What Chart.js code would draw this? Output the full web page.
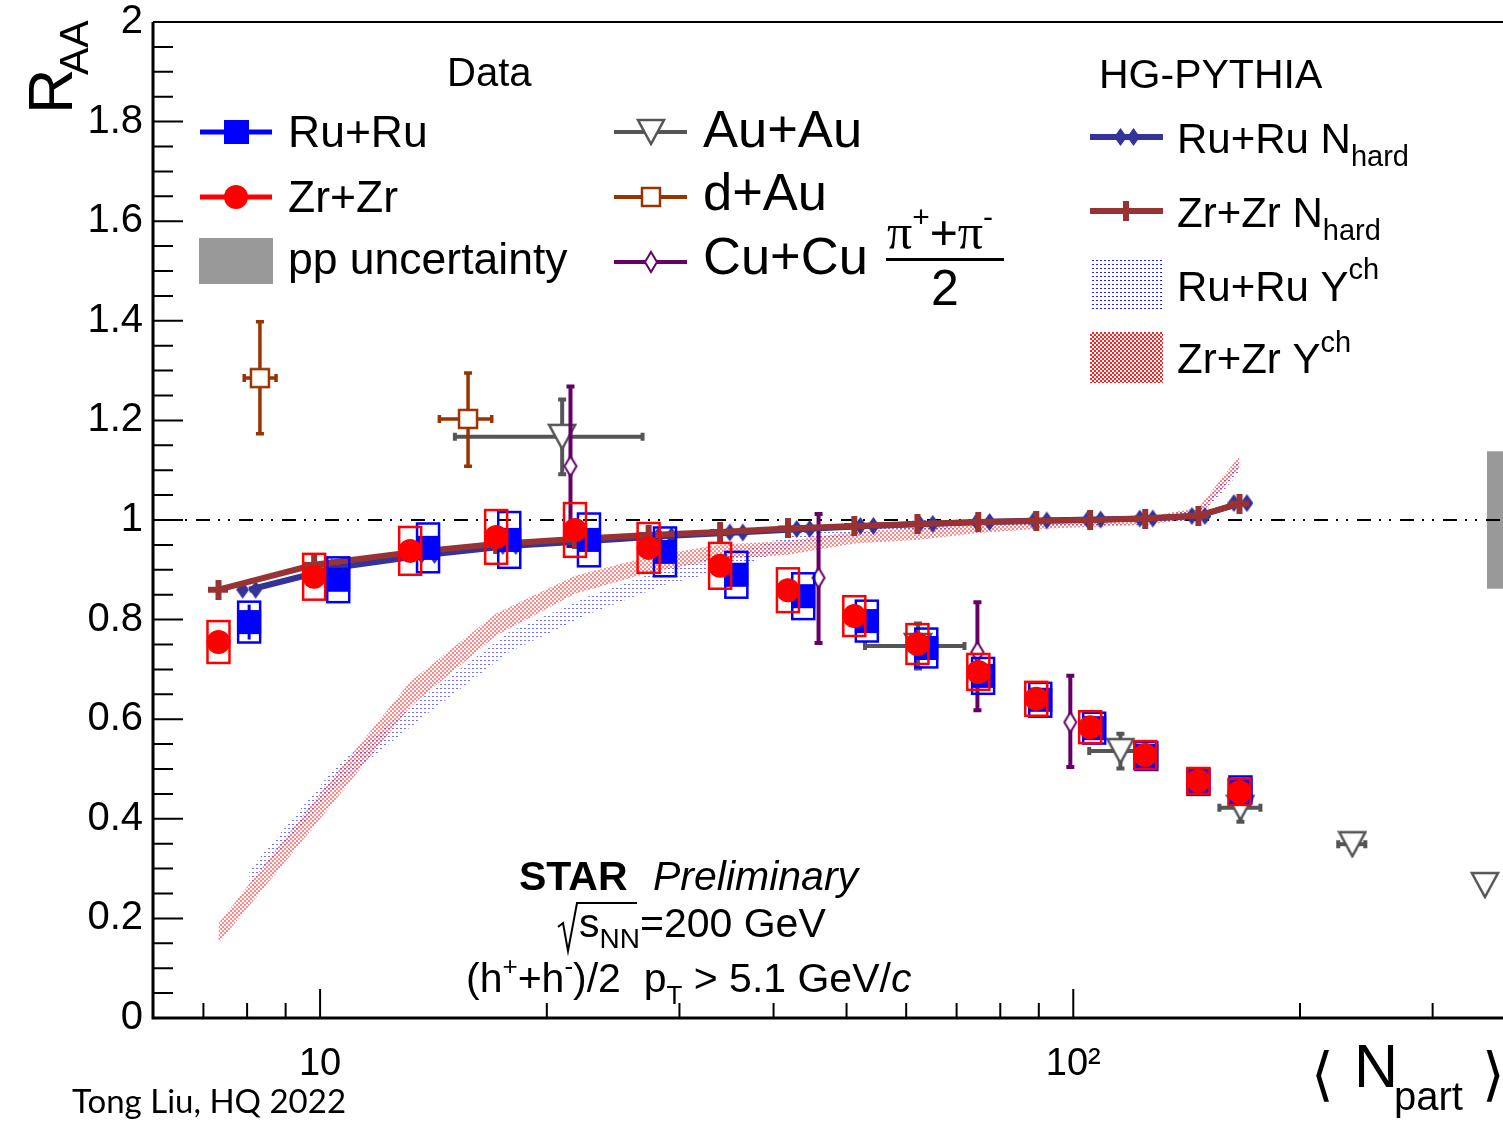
<!DOCTYPE html>
<html>
<head>
<meta charset="utf-8">
<script src="https://cdn.jsdelivr.net/npm/chart.js@4.4.1/dist/chart.umd.min.js"></script>
<style>
  html, body { margin: 0; padding: 0; background: #fff; overflow: hidden; }
</style>
</head>
<body>
<canvas id="chart" width="1503" height="1122"></canvas>
<script>
// ---- data ----
// STAR Ru+Ru and Zr+Zr, (h+ + h-)/2, pT > 5.1 GeV/c
const ruNpart = [8.05, 10.57, 13.91, 17.83, 22.75, 28.7, 35.7, 43.8, 53.2, 63.8, 75.9, 90.4, 106.6, 125, 146.6, 166.7];
const ruRaa   = [0.795, 0.88, 0.944, 0.96, 0.96, 0.936, 0.89, 0.847, 0.797, 0.743, 0.687, 0.639, 0.582, 0.526, 0.474, 0.458];
const ruStat  = [0.035, 0.012, 0.01, 0.01, 0.01, 0.01, 0.01, 0.01, 0.01, 0.01, 0.01, 0.01, 0.01, 0.01, 0.01, 0.01];
const ruSys   = [0.041, 0.045, 0.049, 0.056, 0.053, 0.049, 0.046, 0.046, 0.041, 0.039, 0.036, 0.034, 0.031, 0.028, 0.026, 0.027];

const zrNpart = [7.33, 9.82, 13.17, 17.13, 21.8, 27.3, 33.97, 41.8, 51.2, 62.1, 74.8, 89.3, 105.3, 124.6, 146.6, 166.2];
const zrRaa   = [0.755, 0.886, 0.938, 0.966, 0.98, 0.944, 0.908, 0.859, 0.807, 0.751, 0.695, 0.641, 0.584, 0.528, 0.476, 0.454];
const zrStat  = [0.01, 0.01, 0.01, 0.01, 0.01, 0.01, 0.01, 0.01, 0.01, 0.01, 0.01, 0.01, 0.01, 0.01, 0.01, 0.01];
const zrSys   = [0.042, 0.046, 0.048, 0.054, 0.054, 0.05, 0.046, 0.044, 0.04, 0.04, 0.036, 0.034, 0.032, 0.028, 0.026, 0.026];

// HG-PYTHIA
const ruNhard  = [0.86, 0.905, 0.93, 0.948, 0.958, 0.968, 0.975, 0.982, 0.988, 0.992, 0.996, 0.999, 1.001, 1.003, 1.008, 1.034];
const zrNhard  = [0.86, 0.91, 0.935, 0.952, 0.962, 0.97, 0.976, 0.983, 0.988, 0.992, 0.996, 0.998, 1.0, 1.003, 1.009, 1.033];
const ruYch    = [0.281, 0.49, 0.632, 0.755, 0.829, 0.886, 0.92, 0.965, 0.984, 0.99, 0.994, 0.996, 0.998, 1.0, 1.01, 1.11];
const ruYchErr = [0.015, 0.02, 0.02, 0.02, 0.018, 0.016, 0.015, 0.013, 0.01, 0.01, 0.008, 0.008, 0.008, 0.008, 0.01, 0.012];
const zrYch    = [0.17, 0.41, 0.65, 0.79, 0.87, 0.91, 0.936, 0.944, 0.965, 0.972, 0.984, 0.99, 0.994, 0.998, 1.014, 1.117];
const zrYchErr = [0.02, 0.025, 0.025, 0.022, 0.018, 0.016, 0.015, 0.014, 0.012, 0.012, 0.01, 0.008, 0.008, 0.008, 0.01, 0.012];

// published comparisons
const auNpart   = [20.96, 62.2, 115.5, 166.7, 234.7, 352];
const auRaa     = [1.167, 0.747, 0.536, 0.422, 0.349, 0.267];
const auNpartLo = [15.1, 52.9, 105, 156.3, 224.8, 352];
const auNpartHi = [26.8, 71.7, 126.6, 177.2, 244.2, 352];
const auErr     = [0.075, 0.045, 0.035, 0.028, 0.01, 0];

const dauNpart   = [8.32, 15.72];
const dauRaa     = [1.285, 1.203];
const dauNpartLo = [7.93, 14.4];
const dauNpartHi = [8.74, 16.9];
const dauErrLo   = [0.112, 0.095];
const dauErrHi   = [0.113, 0.092];

const cuNpart = [21.5, 45.9, 74.6, 99.1];
const cuRaa   = [1.108, 0.884, 0.735, 0.594];
const cuErrLo = [0.16, 0.131, 0.117, 0.09];
const cuErrHi = [0.16, 0.128, 0.1, 0.093];

const ppUnc = 0.138;

// axes
const xMin = 6, xMax = 372;
const xMajorTicks = [10, 100];
const xTickLabels = ['10', '10\u00B2'];
const xMinorTicks = [7, 8, 9, 20, 30, 40, 50, 60, 70, 80, 90, 200, 300];
const yMajorTicks = [0, 0.2, 0.4, 0.6, 0.8, 1, 1.2, 1.4, 1.6, 1.8, 2];
const yMinorTicks = [0.05, 0.1, 0.15, 0.25, 0.3, 0.35, 0.45, 0.5, 0.55, 0.65, 0.7, 0.75,
  0.85, 0.9, 0.95, 1.05, 1.1, 1.15, 1.25, 1.3, 1.35, 1.45, 1.5, 1.55, 1.65, 1.7, 1.75, 1.85, 1.9, 1.95];

const FONT = '"Liberation Sans", Arial, Helvetica, sans-serif';
const BLUE = '#0000ff', RED = '#ff0000', RUHG = '#333399', ZRHG = '#993333';
const AUC = '#555555', DAUC = '#993300', CUC = '#660066';

// ---- marker images ----
function makeCanvas(w, h, draw) {
  const c = document.createElement('canvas');
  c.width = w; c.height = h;
  draw(c.getContext('2d'));
  return c;
}
const triMark = makeCanvas(30, 28, g => {
  g.beginPath(); g.moveTo(2, 2); g.lineTo(28, 2); g.lineTo(15, 26); g.closePath();
  g.fillStyle = '#fff'; g.fill(); g.lineWidth = 2.5; g.strokeStyle = AUC; g.stroke();
});
const sqMark = makeCanvas(22, 22, g => {
  g.fillStyle = '#fff'; g.fillRect(2, 2, 18, 18);
  g.lineWidth = 2.5; g.strokeStyle = DAUC; g.strokeRect(2, 2, 18, 18);
});
const diaMark = makeCanvas(16, 24, g => {
  g.beginPath(); g.moveTo(8, 2); g.lineTo(14, 12); g.lineTo(8, 22); g.lineTo(2, 12); g.closePath();
  g.fillStyle = '#fff'; g.fill(); g.lineWidth = 2; g.strokeStyle = CUC; g.stroke();
});
const dblDiaMark = makeCanvas(26, 20, g => {
  g.fillStyle = RUHG;
  [6.5, 19.5].forEach(cx => {
    g.beginPath(); g.moveTo(cx, 1); g.lineTo(cx + 6.5, 10); g.lineTo(cx, 19); g.lineTo(cx - 6.5, 10); g.closePath(); g.fill();
  });
});
const plusMark = makeCanvas(20, 20, g => {
  g.fillStyle = ZRHG; g.fillRect(0, 7, 20, 6); g.fillRect(7, 0, 6, 20);
});

// hatch patterns for the Y^ch bands
const patCtx = document.createElement('canvas').getContext('2d');
const redCheck = patCtx.createPattern(makeCanvas(4, 4, g => {
  g.fillStyle = 'rgba(255,40,40,0.55)'; g.fillRect(0, 0, 2, 2); g.fillRect(2, 2, 2, 2);
}), 'repeat');
const blueDots = patCtx.createPattern(makeCanvas(4, 4, g => {
  g.fillStyle = 'rgba(40,40,255,0.65)'; g.fillRect(0, 0, 2, 1);
}), 'repeat');
const redCheckLeg = patCtx.createPattern(makeCanvas(4, 4, g => {
  g.fillStyle = '#ff2020'; g.fillRect(0, 0, 2, 2); g.fillRect(2, 2, 2, 2);
}), 'repeat');
const blueDotsLeg = patCtx.createPattern(makeCanvas(4, 4, g => {
  g.fillStyle = '#2020ff'; g.fillRect(0, 0, 2, 1);
}), 'repeat');

const pts = (xs, ys) => xs.map((x, i) => ({ x: x, y: ys[i] }));

// ---- error bars and systematic boxes (drawn under each dataset's markers) ----
const errorBars = {
  id: 'errorBars',
  beforeDatasetDraw(chart, args) {
    const ds = chart.data.datasets[args.index];
    const e = ds.err;
    if (!e) return;
    const xs = chart.scales.x, ys = chart.scales.y, ctx = chart.ctx, a = chart.chartArea;
    ctx.save();
    ctx.beginPath(); ctx.rect(a.left, a.top, a.right - a.left, a.bottom - a.top); ctx.clip();
    ctx.strokeStyle = e.color;
    ds.data.forEach((p, i) => {
      const px = xs.getPixelForValue(p.x), py = ys.getPixelForValue(p.y);
      if (e.sys) {
        const t = ys.getPixelForValue(p.y + e.sys[i]), b = ys.getPixelForValue(p.y - e.sys[i]);
        ctx.lineWidth = 2.5;
        ctx.strokeRect(px - 11, t, 22, b - t);
      }
      ctx.lineWidth = e.width;
      if (e.yLo) {
        const t = ys.getPixelForValue(p.y + e.yHi[i]), b = ys.getPixelForValue(p.y - e.yLo[i]);
        if (b - t > 1) {
          ctx.beginPath(); ctx.moveTo(px, t); ctx.lineTo(px, b); ctx.stroke();
          if (e.cap) {
            ctx.beginPath(); ctx.moveTo(px - e.cap, t); ctx.lineTo(px + e.cap, t);
            ctx.moveTo(px - e.cap, b); ctx.lineTo(px + e.cap, b); ctx.stroke();
          }
        }
      }
      if (e.xLo) {
        const l = xs.getPixelForValue(e.xLo[i]), r = xs.getPixelForValue(e.xHi[i]);
        if (r - l > 1) {
          ctx.beginPath(); ctx.moveTo(l, py); ctx.lineTo(r, py); ctx.stroke();
          if (e.cap) {
            ctx.beginPath(); ctx.moveTo(l, py - e.cap); ctx.lineTo(l, py + e.cap);
            ctx.moveTo(r, py - e.cap); ctx.lineTo(r, py + e.cap); ctx.stroke();
          }
        }
      }
    });
    ctx.restore();
  }
};

// ---- reference line at 1 and pp uncertainty box ----
const refLine = {
  id: 'refLine',
  beforeDatasetsDraw(chart) {
    const ctx = chart.ctx, a = chart.chartArea, ys = chart.scales.y;
    const y1 = ys.getPixelForValue(1);
    ctx.save();
    ctx.fillStyle = '#999999';
    const t = ys.getPixelForValue(1 + ppUnc), b = ys.getPixelForValue(1 - ppUnc);
    ctx.fillRect(a.right - 16, t, 16, b - t);
    ctx.strokeStyle = '#000'; ctx.lineWidth = 2;
    ctx.setLineDash([14, 8, 2, 8, 2, 9]);
    ctx.beginPath(); ctx.moveTo(a.left, y1); ctx.lineTo(a.right, y1); ctx.stroke();
    ctx.restore();
  }
};

// ---- frame, inward ticks ----
const frame = {
  id: 'frame',
  afterDatasetsDraw(chart) {
    const ctx = chart.ctx, a = chart.chartArea, xs = chart.scales.x, ys = chart.scales.y;
    ctx.save();
    ctx.strokeStyle = '#000';
    ctx.lineWidth = 2;
    ctx.beginPath(); ctx.moveTo(a.left, a.top); ctx.lineTo(a.right, a.top); ctx.stroke();
    ctx.lineWidth = 3;
    ctx.beginPath(); ctx.moveTo(a.left, a.top); ctx.lineTo(a.left, a.bottom); ctx.lineTo(a.right, a.bottom); ctx.stroke();
    ctx.lineWidth = 2;
    ctx.beginPath();
    yMajorTicks.forEach(v => { const y = ys.getPixelForValue(v); ctx.moveTo(a.left, y); ctx.lineTo(a.left + 30, y); });
    yMinorTicks.forEach(v => { const y = ys.getPixelForValue(v); ctx.moveTo(a.left, y); ctx.lineTo(a.left + 20, y); });
    xMajorTicks.forEach(v => { const x = xs.getPixelForValue(v); ctx.moveTo(x, a.bottom); ctx.lineTo(x, a.bottom - 29); });
    xMinorTicks.forEach(v => { const x = xs.getPixelForValue(v); ctx.moveTo(x, a.bottom); ctx.lineTo(x, a.bottom - 15); });
    ctx.stroke();
    ctx.restore();
  }
};

// ---- legends and labels ----
function rich(ctx, x, y, parts) {
  let cx = x;
  parts.forEach(p => {
    ctx.font = (p.st || '') + ' ' + p.s + 'px ' + (p.f || FONT);
    ctx.fillText(p.t, cx, y + (p.dy || 0));
    cx += ctx.measureText(p.t).width;
  });
  return cx;
}

const texts = {
  id: 'texts',
  afterDraw(chart) {
    const ctx = chart.ctx;
    ctx.save();
    ctx.fillStyle = '#000';
    ctx.textBaseline = 'alphabetic';
    ctx.textAlign = 'left';

    // y title
    ctx.save();
    ctx.translate(72, 114);
    ctx.rotate(-Math.PI / 2);
    ctx.font = '63px ' + FONT; ctx.fillText('R', 0, 0);
    ctx.font = '41px ' + FONT; ctx.fillText('AA', 39, 16);
    ctx.restore();

    // x title
    ctx.font = '58px "DejaVu Sans", sans-serif';
    ctx.fillText('\u27E8', 1311, 1094);
    ctx.fillText('\u27E9', 1482, 1094);
    rich(ctx, 1354, 1087, [{ t: 'N', s: 61 }]);
    rich(ctx, 1394, 1110, [{ t: 'part', s: 40 }]);

    // credit
    ctx.font = '33px Lato, "Open Sans", sans-serif';
    ctx.fillText('Tong Liu, HQ 2022', 72, 1113);

    // STAR label
    rich(ctx, 519, 890, [{ t: 'STAR', s: 41, st: 'bold' }]);
    rich(ctx, 653, 890, [{ t: 'Preliminary', s: 41, st: 'italic' }]);
    ctx.strokeStyle = '#000'; ctx.lineWidth = 2;
    ctx.beginPath();
    ctx.moveTo(558, 927); ctx.lineTo(563, 923); ctx.lineTo(568, 951); ctx.lineTo(577, 903); ctx.lineTo(637, 903);
    ctx.stroke();
    rich(ctx, 579, 937, [{ t: 's', s: 41 }, { t: 'NN', s: 28, dy: 11 }, { t: '=200 GeV', s: 41 }]);
    rich(ctx, 466, 992, [
      { t: '(h', s: 41 }, { t: '+', s: 26, dy: -17 }, { t: '+h', s: 41 }, { t: '-', s: 26, dy: -17 },
      { t: ')/2  p', s: 41 }, { t: 'T', s: 26, dy: 12 }, { t: ' > 5.1 GeV/', s: 41 }, { t: 'c', s: 41, st: 'italic' }
    ]);

    // Data legend
    rich(ctx, 447, 86, [{ t: 'Data', s: 40 }]);
    ctx.lineWidth = 5;
    ctx.strokeStyle = BLUE; ctx.beginPath(); ctx.moveTo(200, 132); ctx.lineTo(272, 132); ctx.stroke();
    ctx.fillStyle = BLUE; ctx.fillRect(224, 120, 25, 24);
    ctx.strokeStyle = RED; ctx.beginPath(); ctx.moveTo(200, 197); ctx.lineTo(272, 197); ctx.stroke();
    ctx.fillStyle = RED; ctx.beginPath(); ctx.arc(236, 197, 12, 0, Math.PI * 2); ctx.fill();
    ctx.fillStyle = '#999999'; ctx.fillRect(199, 238, 74, 46);
    ctx.fillStyle = '#000';
    rich(ctx, 288, 147, [{ t: 'Ru+Ru', s: 44.5 }]);
    rich(ctx, 288, 212, [{ t: 'Zr+Zr', s: 44.5 }]);
    rich(ctx, 288, 274, [{ t: 'pp uncertainty', s: 44.5 }]);

    ctx.lineWidth = 4;
    ctx.strokeStyle = AUC; ctx.beginPath(); ctx.moveTo(614, 132); ctx.lineTo(687, 132); ctx.stroke();
    ctx.drawImage(triMark, 651 - 15, 132 - 14);
    ctx.strokeStyle = DAUC; ctx.beginPath(); ctx.moveTo(614, 197); ctx.lineTo(687, 197); ctx.stroke();
    ctx.drawImage(sqMark, 651 - 11, 197 - 11);
    ctx.strokeStyle = CUC; ctx.beginPath(); ctx.moveTo(614, 262); ctx.lineTo(687, 262); ctx.stroke();
    ctx.drawImage(diaMark, 651 - 8, 262 - 12);
    ctx.fillStyle = '#000';
    rich(ctx, 703, 147, [{ t: 'Au+Au', s: 52.5 }]);
    rich(ctx, 703, 210, [{ t: 'd+Au', s: 52.5 }]);
    rich(ctx, 703, 274, [{ t: 'Cu+Cu', s: 52.5 }]);
    const SER = '"Liberation Serif", "DejaVu Serif", serif';
    rich(ctx, 887, 249, [
      { t: '\u03C0', s: 50, f: SER }, { t: '+', s: 30, dy: -22 }, { t: '+', s: 48 },
      { t: '\u03C0', s: 50, f: SER }, { t: '-', s: 30, dy: -22 }
    ]);
    ctx.fillRect(886, 258, 118, 3);
    rich(ctx, 931, 305, [{ t: '2', s: 50 }]);

    // HG-PYTHIA legend
    rich(ctx, 1099, 88, [{ t: 'HG-PYTHIA', s: 41 }]);
    ctx.lineWidth = 6;
    ctx.strokeStyle = RUHG; ctx.beginPath(); ctx.moveTo(1090, 137); ctx.lineTo(1163, 137); ctx.stroke();
    ctx.drawImage(dblDiaMark, 1127 - 13, 137 - 10);
    ctx.strokeStyle = ZRHG; ctx.beginPath(); ctx.moveTo(1090, 211); ctx.lineTo(1163, 211); ctx.stroke();
    ctx.drawImage(plusMark, 1126 - 10, 211 - 10);
    ctx.fillStyle = blueDotsLeg; ctx.fillRect(1090, 258, 73, 51);
    ctx.fillStyle = redCheckLeg; ctx.fillRect(1090, 332, 73, 51);
    ctx.fillStyle = '#000';
    rich(ctx, 1177, 153, [{ t: 'Ru+Ru N', s: 42 }, { t: 'hard', s: 29, dy: 13 }]);
    rich(ctx, 1177, 227, [{ t: 'Zr+Zr N', s: 42 }, { t: 'hard', s: 29, dy: 13 }]);
    rich(ctx, 1177, 301, [{ t: 'Ru+Ru Y', s: 42 }, { t: 'ch', s: 29, dy: -22 }]);
    rich(ctx, 1177, 373, [{ t: 'Zr+Zr Y', s: 42 }, { t: 'ch', s: 29, dy: -21 }]);
    ctx.restore();
  }
};

const ctx = document.getElementById('chart').getContext('2d');
new Chart(ctx, {
  type: 'line',
  data: {
    datasets: [
      // 0,1: Ru+Ru Y^ch band
      { data: pts(ruNpart, ruYch.map((v, i) => v - ruYchErr[i])), borderWidth: 0, pointRadius: 0, fill: false, order: 9 },
      { data: pts(ruNpart, ruYch.map((v, i) => v + ruYchErr[i])), borderWidth: 0, pointRadius: 0, fill: '-1', backgroundColor: blueDots, order: 9 },
      // 2,3: Zr+Zr Y^ch band
      { data: pts(zrNpart, zrYch.map((v, i) => v - zrYchErr[i])), borderWidth: 0, pointRadius: 0, fill: false, order: 8 },
      { data: pts(zrNpart, zrYch.map((v, i) => v + zrYchErr[i])), borderWidth: 0, pointRadius: 0, fill: '-1', backgroundColor: redCheck, order: 8 },
      // Au+Au
      { data: pts(auNpart, auRaa), showLine: false, pointStyle: triMark, pointRadius: 12, order: 7,
        err: { color: AUC, width: 4, cap: 4, yLo: auErr, yHi: auErr, xLo: auNpartLo, xHi: auNpartHi } },
      // d+Au
      { data: pts(dauNpart, dauRaa), showLine: false, pointStyle: sqMark, pointRadius: 10, order: 6,
        err: { color: DAUC, width: 3.5, cap: 4, yLo: dauErrLo, yHi: dauErrHi, xLo: dauNpartLo, xHi: dauNpartHi } },
      // Cu+Cu
      { data: pts(cuNpart, cuRaa), showLine: false, pointStyle: diaMark, pointRadius: 10, order: 5,
        err: { color: CUC, width: 4, cap: 4, yLo: cuErrLo, yHi: cuErrHi } },
      // HG-PYTHIA N_hard
      { data: pts(ruNpart, ruNhard), borderColor: RUHG, borderWidth: 6, pointStyle: dblDiaMark, pointRadius: 10, order: 4 },
      { data: pts(zrNpart, zrNhard), borderColor: ZRHG, borderWidth: 6, pointStyle: plusMark, pointRadius: 10, order: 3 },
      // Ru+Ru data
      { data: pts(ruNpart, ruRaa), showLine: false, pointStyle: 'rect', pointRadius: 17, backgroundColor: BLUE, borderWidth: 0, order: 2,
        err: { color: BLUE, width: 3, cap: 0, sys: ruSys, yLo: ruStat, yHi: ruStat } },
      // Zr+Zr data
      { data: pts(zrNpart, zrRaa), showLine: false, pointStyle: 'circle', pointRadius: 12, backgroundColor: RED, borderWidth: 0, order: 1,
        err: { color: RED, width: 3, cap: 0, sys: zrSys, yLo: zrStat, yHi: zrStat } }
    ]
  },
  options: {
    responsive: false,
    animation: false,
    events: [],
    devicePixelRatio: 1,
    layout: { autoPadding: false, padding: { top: 22, right: 0, left: 0, bottom: 0 } },
    plugins: { legend: { display: false }, tooltip: { enabled: false } },
    elements: { line: { tension: 0 } },
    scales: {
      x: {
        type: 'logarithmic', min: xMin, max: xMax, position: 'bottom',
        grid: { display: false, drawTicks: false }, border: { display: false },
        afterBuildTicks: s => { s.ticks = xMajorTicks.map(v => ({ value: v })); },
        ticks: {
          autoSkip: false, maxRotation: 0, padding: 24, color: '#000',
          font: { size: 38, family: FONT },
          callback: v => { const i = xMajorTicks.indexOf(v); return i >= 0 ? xTickLabels[i] : ''; }
        },
        afterFit: s => { s.height = 104; s.paddingLeft = 0; s.paddingRight = 0; }
      },
      y: {
        type: 'linear', min: 0, max: 2, position: 'left',
        grid: { display: false, drawTicks: false }, border: { display: false },
        afterBuildTicks: s => { s.ticks = yMajorTicks.map(v => ({ value: v })); },
        ticks: {
          padding: 10, color: '#000', font: { size: 40, family: FONT },
          callback: v => String(Math.round(v * 10) / 10)
        },
        afterFit: s => { s.width = 153; s.paddingTop = 0; s.paddingBottom = 0; }
      }
    }
  },
  plugins: [refLine, errorBars, frame, texts]
});
</script>
</body>
</html>
